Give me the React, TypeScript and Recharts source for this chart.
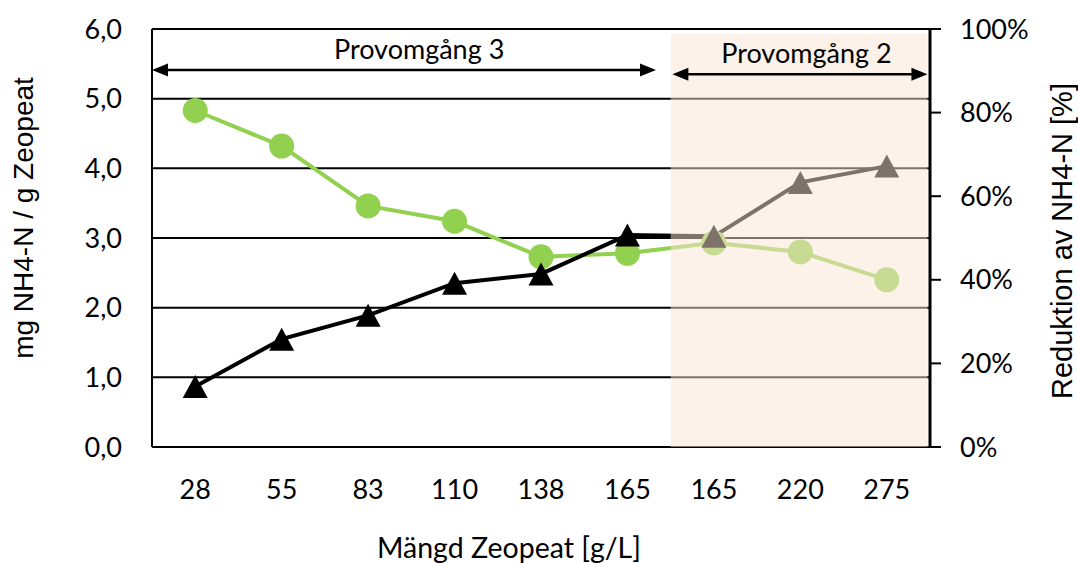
import React from "react";
import {
  LineChart,
  Line,
  XAxis,
  YAxis,
  CartesianGrid,
  ReferenceArea,
  ReferenceLine,
} from "recharts";

// Mängd Zeopeat [g/L] – 165 finns med två gånger (en per provomgång)
const categories = ["28", "55", "83", "110", "138", "165", "165", "220", "275"];
const mgPerGram = [4.83, 4.32, 3.46, 3.24, 2.73, 2.78, 2.93, 2.8, 2.4];
const reductionPct = [14.5, 25.8, 31.5, 39.2, 41.4, 50.7, 50.4, 63.3, 67.2];

const leftTicks = [0, 1, 2, 3, 4, 5, 6];
const rightTicks = [0, 20, 40, 60, 80, 100];

const phaseNames = ["Provomgång 3", "Provomgång 2"];
const phaseFrom = [0, 6.02];
const phaseTo = [5.83, 8.97];
const phaseArrowY = [5.41, 5.35];
const phaseLabelX = [3.09, 7.57];

const CALIBRI = "Lato, 'Open Sans', sans-serif";
const ARIAL = "'Liberation Sans', Arial, sans-serif";

const chartData = categories.map((c, i) => ({
  x: i + 0.5,
  mg: mgPerGram[i],
  red: reductionPct[i],
}));

const xTicks = categories.map((_, i) => i + 0.5);

function Triangle(props: any) {
  const { cx, cy } = props;
  if (cx == null || cy == null) return null;
  const w = 12.5;
  const h = 11.5;
  return (
    <polygon
      points={`${cx},${cy - h} ${cx + w},${cy + h} ${cx - w},${cy + h}`}
      fill="#000"
    />
  );
}

function Circle(props: any) {
  const { cx, cy } = props;
  if (cx == null || cy == null) return null;
  return <circle cx={cx} cy={cy} r={12.5} fill="#92D050" />;
}

// dubbelpil med rubrik ovanför
function PhaseArrow(props: any) {
  const { x1, y1, x2, y2, label, labelX } = props;
  const head = 16;
  const half = 6.5;
  return (
    <g>
      <line x1={x1 + head - 2} y1={y1} x2={x2 - head + 2} y2={y2} stroke="#000" strokeWidth={2.5} />
      <polygon points={`${x1},${y1} ${x1 + head},${y1 - half} ${x1 + head},${y1 + half}`} fill="#000" />
      <polygon points={`${x2},${y2} ${x2 - head},${y2 - half} ${x2 - head},${y2 + half}`} fill="#000" />
      <text
        x={labelX}
        y={y1 - 22}
        textAnchor="middle"
        dominantBaseline="central"
        fontFamily={CALIBRI}
        fontSize={27}
        fill="#000"
      >
        {label}
      </text>
    </g>
  );
}

function title(x: number, y: number, angle: number, text: string, family: string, size: number) {
  return {
    content: () => (
      <text
        x={x}
        y={y}
        transform={angle ? `rotate(${angle} ${x} ${y})` : undefined}
        textAnchor="middle"
        fontFamily={family}
        fontSize={size}
        fill="#000"
      >
        {text}
      </text>
    ),
  };
}

export default function App() {
  // x-skalan: 0..9 över plotytan (152..930)
  const toPx = (v: number) => 152 + (v / 9) * 778;
  return (
    <div style={{ position: "absolute", left: 0, top: 0, background: "#fff" }}>
      <LineChart
        width={1078}
        height={563}
        data={chartData}
        margin={{ top: 29, right: 0, bottom: 0, left: 0 }}
      >
        <CartesianGrid vertical={false} stroke="#000" strokeWidth={2} yAxisId="left" />

        <Line
          yAxisId="left"
          dataKey="mg"
          stroke="#92D050"
          strokeWidth={4}
          dot={<Circle />}
          activeDot={false}
          isAnimationActive={false}
        />
        <Line
          yAxisId="right"
          dataKey="red"
          stroke="#000"
          strokeWidth={4}
          dot={<Triangle />}
          activeDot={false}
          isAnimationActive={false}
        />

        <ReferenceArea
          yAxisId="left"
          x1={6}
          x2={8.97}
          y1={0}
          y2={5.93}
          fill="#FBE5D6"
          fillOpacity={0.5}
          stroke="none"
          ifOverflow="visible"
          zIndex={1300}
        />

        <XAxis
          type="number"
          dataKey="x"
          domain={[0, 9]}
          ticks={xTicks}
          tickFormatter={(v: number) => categories[Math.floor(v)]}
          tickLine={false}
          tickSize={0}
          tickMargin={33}
          axisLine={{ stroke: "#000", strokeWidth: 2 }}
          tick={{ fill: "#000", fontSize: 27, fontFamily: CALIBRI }}
          height={116}
          interval={0}
          label={title(509, 558, 0, "Mängd Zeopeat [g/L]", CALIBRI, 28.5)}
        />
        <YAxis
          yAxisId="left"
          orientation="left"
          domain={[0, 6]}
          ticks={leftTicks}
          tickFormatter={(v: number) => v.toFixed(1).replace(".", ",")}
          tickLine={false}
          tickSize={0}
          tickMargin={30}
          axisLine={{ stroke: "#000", strokeWidth: 2 }}
          tick={{ fill: "#000", fontSize: 27, fontFamily: CALIBRI }}
          width={152}
          interval={0}
          label={title(33, 218, -90, "mg NH4-N / g Zeopeat", ARIAL, 28)}
        />
        <YAxis
          yAxisId="right"
          orientation="right"
          domain={[0, 100]}
          ticks={rightTicks}
          tickFormatter={(v: number) => `${v}%`}
          tickSize={11}
          tickMargin={19}
          tickLine={{ stroke: "#000", strokeWidth: 2 }}
          axisLine={{ stroke: "#000", strokeWidth: 3 }}
          tick={{ fill: "#000", fontSize: 27, fontFamily: CALIBRI }}
          width={148}
          interval={0}
          label={title(1072, 241, -90, "Reduktion av NH4-N [%]", ARIAL, 29)}
        />

        {phaseNames.map((name, i) => (
          <ReferenceLine
            key={name}
            yAxisId="left"
            segment={[
              { x: phaseFrom[i], y: phaseArrowY[i] },
              { x: phaseTo[i], y: phaseArrowY[i] },
            ]}
            ifOverflow="visible"
            shape={(p: any) => <PhaseArrow {...p} label={name} labelX={toPx(phaseLabelX[i])} />}
            zIndex={1500}
          />
        ))}
      </LineChart>
    </div>
  );
}
